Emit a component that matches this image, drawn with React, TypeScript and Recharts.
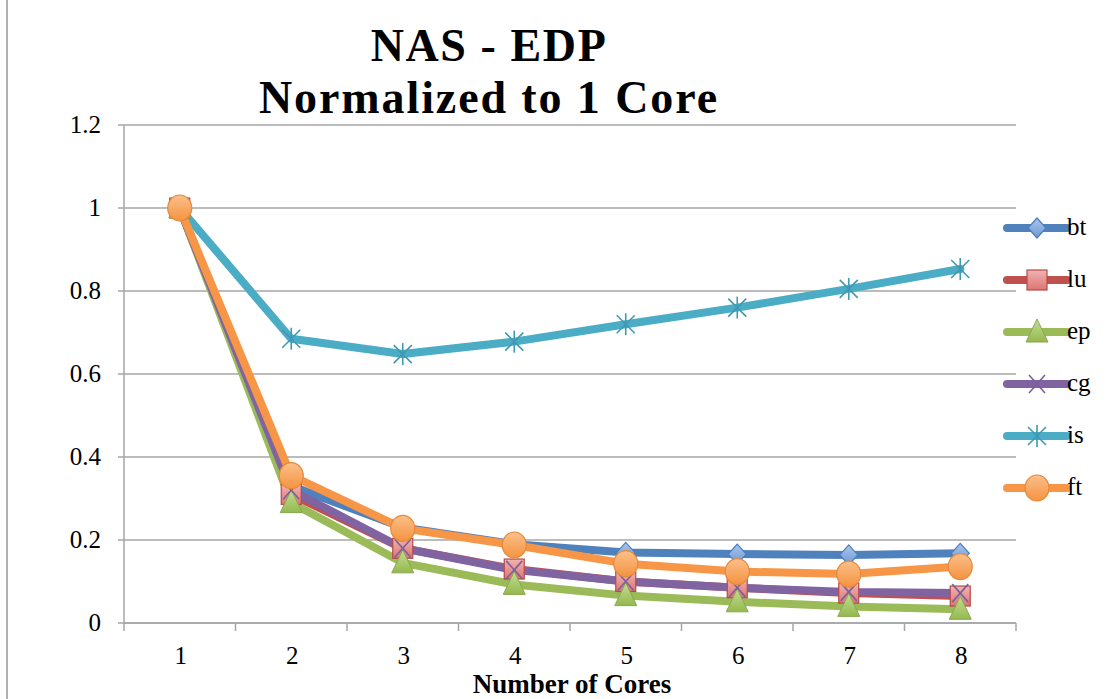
import React from "react";
import { LineChart, Line, XAxis, YAxis, CartesianGrid } from "recharts";

// Cores used and normalized energy-delay product per NAS benchmark
const cores = [1, 2, 3, 4, 5, 6, 7, 8];
const bt = [1, 0.33, 0.23, 0.19, 0.17, 0.166, 0.164, 0.168];
const lu = [1, 0.31, 0.18, 0.13, 0.1, 0.085, 0.072, 0.065];
const ep = [1, 0.29, 0.145, 0.093, 0.066, 0.051, 0.04, 0.033];
const cg = [1, 0.32, 0.18, 0.128, 0.1, 0.085, 0.075, 0.072];
const is = [1, 0.685, 0.648, 0.678, 0.72, 0.76, 0.805, 0.853];
const ft = [1, 0.355, 0.228, 0.188, 0.143, 0.124, 0.118, 0.136];
const yTicks = [0, 0.2, 0.4, 0.6, 0.8, 1, 1.2];
const xTicks = [0.5, 1, 1.5, 2, 2.5, 3, 3.5, 4, 4.5, 5, 5.5, 6, 6.5, 7, 7.5, 8, 8.5];

const data = cores.map((c, i) => ({
  core: c,
  bt: bt[i],
  lu: lu[i],
  ep: ep[i],
  cg: cg[i],
  is: is[i],
  ft: ft[i],
}));

const SERIF = "'Liberation Serif', 'Times New Roman', serif";
const GRID = "#a6a6a6";

type MarkerKind = "diamond" | "square" | "triangle" | "x" | "star" | "circle";

function Marker({ kind, cx, cy }: { kind: MarkerKind; cx: number; cy: number }) {
  if (cx == null || cy == null) return null;
  switch (kind) {
    case "diamond":
      return (
        <path
          d={`M${cx},${cy - 10} L${cx + 9},${cy} L${cx},${cy + 10} L${cx - 9},${cy} Z`}
          fill="url(#gDiamond)"
          stroke="#4a7ebb"
          strokeWidth={1.2}
        />
      );
    case "square":
      return (
        <rect x={cx - 10} y={cy - 10} width={20} height={20} fill="url(#gSquare)" stroke="#b64a47" strokeWidth={1.2} />
      );
    case "triangle":
      return (
        <path
          d={`M${cx},${cy - 13} L${cx + 11},${cy + 10} L${cx - 11},${cy + 10} Z`}
          fill="url(#gTriangle)"
          stroke="#8aa74f"
          strokeWidth={1}
        />
      );
    case "x":
      return (
        <g stroke="#7a5f9c" strokeWidth={1.6}>
          <line x1={cx - 8} y1={cy - 9} x2={cx + 8} y2={cy + 9} />
          <line x1={cx - 8} y1={cy + 9} x2={cx + 8} y2={cy - 9} />
        </g>
      );
    case "star":
      return (
        <g stroke="#3e9ab3" strokeWidth={1.6}>
          <line x1={cx - 9} y1={cy - 9} x2={cx + 9} y2={cy + 9} />
          <line x1={cx - 9} y1={cy + 9} x2={cx + 9} y2={cy - 9} />
          <line x1={cx} y1={cy - 11} x2={cx} y2={cy + 11} />
        </g>
      );
    case "circle":
      return <ellipse cx={cx} cy={cy} rx={12} ry={13} fill="url(#gCircle)" stroke="#e5893a" strokeWidth={1.2} />;
  }
  return null;
}

const series: { key: string; color: string; marker: MarkerKind }[] = [
  { key: "bt", color: "#4f81bd", marker: "diamond" },
  { key: "lu", color: "#c0504d", marker: "square" },
  { key: "ep", color: "#9bbb59", marker: "triangle" },
  { key: "cg", color: "#8064a2", marker: "x" },
  { key: "is", color: "#4bacc6", marker: "star" },
  { key: "ft", color: "#f79646", marker: "circle" },
];

function XTick(props: any) {
  const { x, y, payload } = props;
  const v = payload.value as number;
  if (!Number.isInteger(v)) {
    return <line x1={x} y1={y} x2={x} y2={y + 8} stroke={GRID} strokeWidth={1.5} />;
  }
  return (
    <text x={x + 1} y={y + 41} textAnchor="middle" fontFamily={SERIF} fontSize={25} fill="#000">
      {v}
    </text>
  );
}

function YTick(props: any) {
  const { x, y, payload } = props;
  return (
    <text x={x} y={y + 8} textAnchor="end" fontFamily={SERIF} fontSize={25} fill="#000">
      {payload.value}
    </text>
  );
}

function Gradients() {
  return (
    <defs>
      <linearGradient id="gDiamond" x1="0" y1="0" x2="0" y2="1">
        <stop offset="0" stopColor="#a9c4ea" />
        <stop offset="1" stopColor="#6f9ad6" />
      </linearGradient>
      <linearGradient id="gSquare" x1="0" y1="0" x2="0" y2="1">
        <stop offset="0" stopColor="#f2b3b1" />
        <stop offset="1" stopColor="#dc7573" />
      </linearGradient>
      <linearGradient id="gTriangle" x1="0" y1="0" x2="0" y2="1">
        <stop offset="0" stopColor="#c5dc95" />
        <stop offset="1" stopColor="#94b94e" />
      </linearGradient>
      <linearGradient id="gCircle" x1="0" y1="0" x2="0" y2="1">
        <stop offset="0" stopColor="#fbc08a" />
        <stop offset="1" stopColor="#f59340" />
      </linearGradient>
    </defs>
  );
}

function LegendBox() {
  return (
    <svg width={108} height={320} style={{ position: "absolute", left: 1000, top: 200 }}>
      <Gradients />
      {series.map((s, i) => {
        const cy = 28 + i * 52;
        return (
          <g key={s.key}>
            <line x1={7} y1={cy} x2={67} y2={cy} stroke={s.color} strokeWidth={8} strokeLinecap="round" />
            <Marker kind={s.marker} cx={37} cy={cy} />
            <text x={67} y={cy + 7} fontFamily={SERIF} fontSize={25} fill="#000">
              {s.key}
            </text>
          </g>
        );
      })}
    </svg>
  );
}

export default function App() {
  return (
    <div style={{ position: "absolute", left: 0, top: 0, width: 1108, height: 699, background: "#fff", overflow: "hidden" }}>
      <div style={{ position: "absolute", left: 6, top: 0, width: 2, height: 699, background: "#b0b0b0" }} />
      <svg width={1108} height={130} style={{ position: "absolute", left: 0, top: 0 }}>
        <text x={489} y={61} textAnchor="middle" fontFamily={SERIF} fontWeight={700} fontSize={46} letterSpacing={1.6} fill="#000">
          NAS - EDP
        </text>
        <text x={489} y={113} textAnchor="middle" fontFamily={SERIF} fontWeight={700} fontSize={46} letterSpacing={1.9} fill="#000">
          Normalized to 1 Core
        </text>
      </svg>
      <div style={{ position: "absolute", left: 0, top: 0 }}>
        <LineChart width={1108} height={699} data={data} margin={{ top: 125, right: 92, bottom: 0, left: 0 }}>
          <Gradients />
          <CartesianGrid horizontal vertical={false} stroke={GRID} strokeWidth={1.5} />
          <XAxis
            dataKey="core"
            type="number"
            domain={[0.5, 8.5]}
            ticks={xTicks}
            interval={0}
            height={76}
            tickSize={0}
            tickMargin={0}
            tickLine={false}
            axisLine={{ stroke: GRID, strokeWidth: 1.5 }}
            tick={<XTick />}
          />
          <YAxis
            type="number"
            domain={[0, 1.2]}
            ticks={yTicks}
            interval={0}
            width={124}
            tickSize={6}
            tickMargin={17}
            tickLine={{ stroke: GRID, strokeWidth: 1.5 }}
            axisLine={{ stroke: GRID, strokeWidth: 1.5 }}
            tick={<YTick />}
          />
          {series.map((s) => (
            <Line
              key={s.key}
              dataKey={s.key}
              type="linear"
              stroke={s.color}
              strokeWidth={8}
              strokeLinejoin="round"
              strokeLinecap="round"
              isAnimationActive={false}
              activeDot={false}
              dot={(p: any) => <Marker key={`${s.key}-${p.index}`} kind={s.marker} cx={p.cx} cy={p.cy} />}
            />
          ))}
        </LineChart>
      </div>
      <svg width={1108} height={40} style={{ position: "absolute", left: 0, top: 659 }}>
        <text x={572} y={34} textAnchor="middle" fontFamily={SERIF} fontWeight={700} fontSize={27} fill="#000">
          Number of Cores
        </text>
      </svg>
      <LegendBox />
    </div>
  );
}
